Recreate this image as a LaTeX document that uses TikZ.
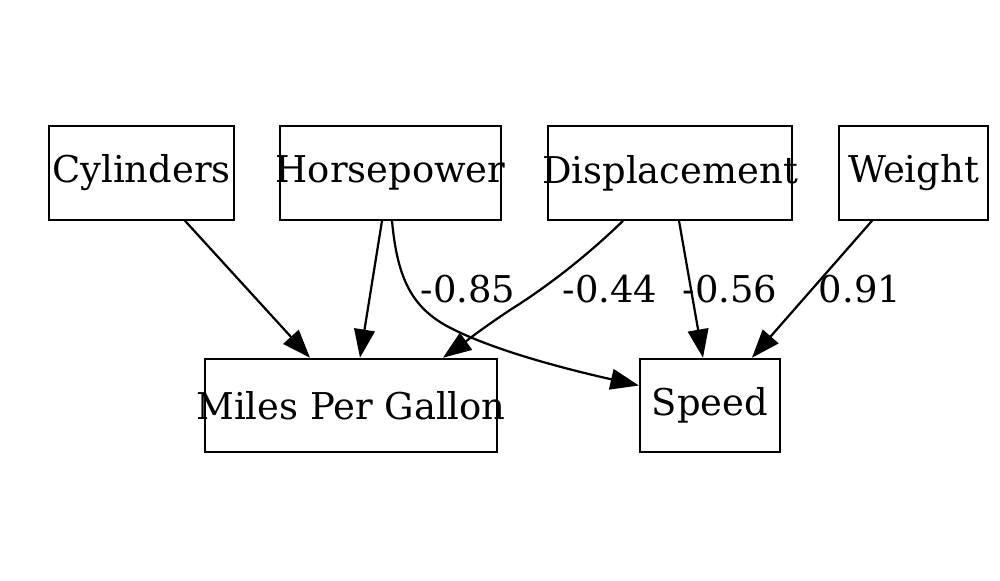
\documentclass[tikz,border=0pt]{standalone}
\usepackage{fontspec}
\setmainfont{DejaVu Serif}
\usetikzlibrary{arrows.meta}
\begin{document}
\begin{tikzpicture}[x=0.03cm,y=-0.03cm,
  box/.style={draw,line width=1.9pt,inner sep=0pt,minimum height=2.8cm,font=\fontsize{31.5}{36}\selectfont},
  edge/.style={line width=1.9pt,-{Triangle[length=0.85cm,width=0.62cm]}},
  lbl/.style={font=\fontsize{31.5}{36}\selectfont,inner sep=0pt}]
\useasboundingbox (0,0) rectangle (1000,580);
\node[box,minimum width=5.55cm] (cyl) at (141.5,173) {\makebox[0pt]{\raisebox{-2pt}{Cylinders}}};
\node[box,minimum width=6.63cm] (hp) at (390.5,173) {\makebox[0pt]{\raisebox{-2pt}{Horsepower}}};
\node[box,minimum width=7.32cm] (disp) at (670,173) {\makebox[0pt]{\raisebox{-2pt}{Displacement}}};
\node[box,minimum width=4.47cm] (wt) at (913.5,173) {\makebox[0pt]{\raisebox{-2pt}{Weight}}};
\node[box,minimum width=8.76cm] (mpg) at (351,405.5) {\makebox[0pt]{\raisebox{-2pt}{Miles Per Gallon}}};
\node[box,minimum width=4.2cm] (spd) at (710,405.5) {\makebox[0pt]{\raisebox{-2pt}{Speed}}};
\draw[edge] ([xshift=1.305cm]cyl.south) -- ([xshift=-1.23cm]mpg.north);
\draw[edge] ([xshift=-0.255cm]hp.south) -- ([xshift=0.27cm]mpg.north);
\draw[edge] ([xshift=0.045cm]hp.south) .. controls (397,275) and (410,305) .. (445,325) .. controls (490,350) and (570,370) .. ([yshift=0.6cm]spd.west);
\draw[edge] ([xshift=-1.41cm]disp.south) .. controls (590,253) and (550,285) .. (510,310) .. controls (480,330) and (465,342) .. ([xshift=2.76cm]mpg.north);
\draw[edge] ([xshift=0.27cm]disp.south) -- ([xshift=-0.21cm]spd.north);
\draw[edge] ([xshift=-1.245cm]wt.south) -- ([xshift=1.26cm]spd.north);
\node[lbl] (l1) at (468,289) {-0.85};
\node[lbl] (l2) at (610,289) {-0.44};
\node[lbl] (l3) at (730,289) {-0.56};
\node[lbl] (l4) at (860,289) {0.91};
\end{tikzpicture}
\end{document}
